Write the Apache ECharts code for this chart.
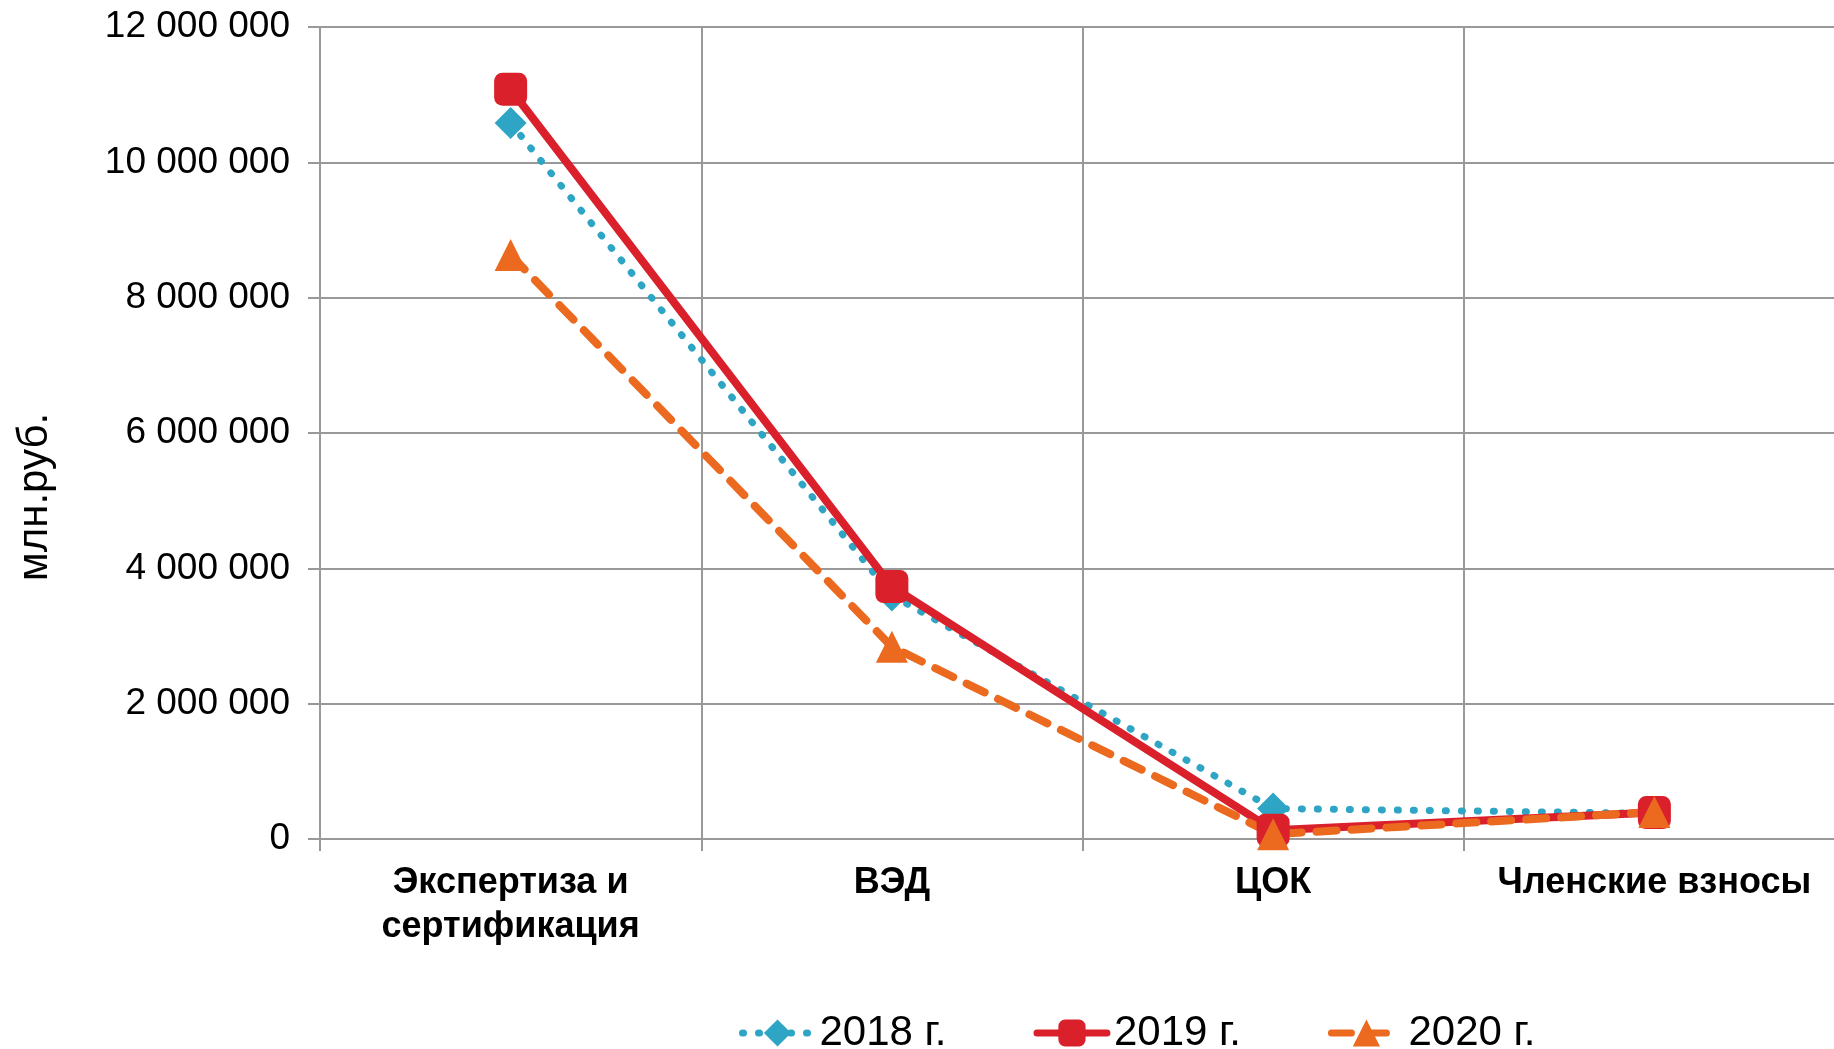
<!DOCTYPE html>
<html><head><meta charset="utf-8">
<script src="https://cdn.jsdelivr.net/npm/echarts@6/dist/echarts.min.js"></script>
<style>html,body{margin:0;padding:0;background:#fff}#c{width:1834px;height:1049px}</style>
</head><body><div id="c"></div>
<script>
const categories = ['Экспертиза и\nсертификация', 'ВЭД', 'ЦОК', 'Членские взносы'];
const seriesNames = ['2018 г.', '2019 г.', '2020 г.'];
const values2018 = [10580000, 3600000, 450000, 380000];
const values2019 = [11080000, 3730000, 130000, 390000];
const values2020 = [8630000, 2840000, 70000, 400000];
const yTicks = { min: 0, max: 12000000, interval: 2000000 };
const yName = 'млн.руб.';

const chart = echarts.init(document.getElementById('c'));
const fmt = v => String(v).replace(/\B(?=(\d{3})+(?!\d))/g, ' ');
const colors = ['#2EA5C4', '#D9202B', '#EB6A1F'];
const lineTypes = [[1, 15], 'solid', [20, 15]];
chart.setOption({
  animation: false,
  textStyle: { fontFamily: 'Liberation Sans, Arial, sans-serif' },
  grid: { left: 320, width: 1525, top: 27, height: 812, outerBoundsMode: 'none', containLabel: false },
  legend: {
    left: 734, top: 1007, orient: 'horizontal',
    itemWidth: 70, itemHeight: 34, itemGap: 87,
    textStyle: { fontSize: 42, color: '#000', fontFamily: 'Liberation Sans Narrow, Liberation Sans, Arial', padding: [0,0,0,2] },
    data: seriesNames.map((n, i) => ({ name: n, lineStyle: { width: 7, color: colors[i], type: lineTypes[i], cap: 'round' } }))
  },
  graphic: [{
    type: 'text', x: 35, y: 497, rotation: Math.PI / 2,
    style: { text: yName, fontSize: 42, fill: '#000', fontFamily: 'Liberation Sans Narrow, Liberation Sans, Arial', align: 'center', verticalAlign: 'middle' }
  }],
  xAxis: {
    type: 'category', data: categories, boundaryGap: true,
    axisLine: { lineStyle: { color: '#999', width: 2 } },
    axisTick: { show: true, length: 12, lineStyle: { color: '#999', width: 2 } },
    splitLine: { show: true, lineStyle: { color: '#999', width: 2 } },
    axisLabel: { color: '#000', fontSize: 36, fontWeight: 'bold', lineHeight: 44, margin: 22, interval: 0 }
  },
  yAxis: {
    type: 'value', min: yTicks.min, max: yTicks.max, interval: yTicks.interval,
    axisLine: { show: true, lineStyle: { color: '#999', width: 2 } },
    axisTick: { show: true, length: 12, lineStyle: { color: '#999', width: 2 } },
    splitLine: { show: true, lineStyle: { color: '#999', width: 2 } },
    axisLabel: { color: '#000', fontSize: 37, margin: 30, formatter: fmt }
  },
  series: [
    {
      name: seriesNames[0], type: 'line', data: values2018,
      symbol: 'diamond', symbolSize: 32,
      itemStyle: { color: colors[0] },
      lineStyle: { color: colors[0], width: 7, type: lineTypes[0], cap: 'round' }
    },
    {
      name: seriesNames[1], type: 'line', data: values2019,
      symbol: 'roundRect', symbolSize: 33,
      itemStyle: { color: colors[1] },
      lineStyle: { color: colors[1], width: 8, type: lineTypes[1] }
    },
    {
      name: seriesNames[2], type: 'line', data: values2020,
      symbol: 'triangle', symbolSize: 32,
      itemStyle: { color: colors[2] },
      lineStyle: { color: colors[2], width: 8, type: lineTypes[2], cap: 'round' }
    }
  ]
});
</script></body></html>
